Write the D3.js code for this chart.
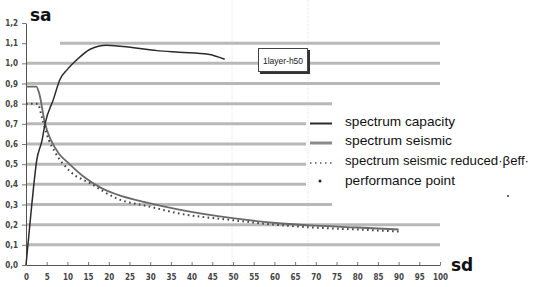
<!DOCTYPE html>
<html>
<head>
<meta charset="utf-8">
<script src="https://cdn.jsdelivr.net/npm/d3@7"></script>
<style>
  body { margin: 0; background: #fff; }
  svg { display: block; font-family: "Liberation Sans Narrow", "Liberation Sans", Arial, sans-serif; }
</style>
</head>
<body>
<svg id="chart" width="537" height="287"></svg>
<script>
// data (sd, sa)
var capacitySd = [0, 1.4, 2.6, 3.9, 4.6, 6.6, 8.2, 10, 12.2, 15.5, 19.5, 26, 31.6, 37, 44, 48];
var capacitySa = [0, 0.3, 0.52, 0.62, 0.7, 0.82, 0.92, 0.97, 1.016, 1.07, 1.09, 1.077, 1.063, 1.055, 1.045, 1.02];

var seismicSd = [0, 2.5, 3.2, 4.6, 6, 8, 10, 13.8, 17.9, 21.9, 30, 37, 49, 61, 70, 80, 90];
var seismicSa = [0.885, 0.885, 0.85, 0.7, 0.62, 0.55, 0.51, 0.44, 0.385, 0.35, 0.306, 0.275, 0.235, 0.207, 0.195, 0.186, 0.176];

var reducedSd = [0, 2.8, 4, 5.5, 7, 10.6, 15.5, 21.9, 30, 36.4, 50, 60, 70, 80, 90];
var reducedSa = [0.8, 0.8, 0.72, 0.62, 0.56, 0.465, 0.405, 0.33, 0.289, 0.258, 0.222, 0.2, 0.185, 0.176, 0.166];

var xTicks = d3.range(0, 101, 5);
var yTicks = [0, 0.1, 0.2, 0.3, 0.4, 0.5, 0.6, 0.7, 0.8, 0.9, 1.0, 1.1, 1.2];
var legendLabels = ["spectrum capacity", "spectrum seismic", "spectrum seismic reduced·βeff·", "performance point"];
var boxLabel = "1layer-h50";

var svg = d3.select("#chart");

var x = d3.scaleLinear().domain([0, 100]).range([26, 440]);
var y = d3.scaleLinear().domain([0, 1.2]).range([265, 23]);

// faint vertical lines
[232, 308].forEach(function(px) {
    svg.append("line")
        .attr("x1", px).attr("x2", px)
        .attr("y1", 0).attr("y2", 265)
        .attr("stroke", "#e6e6e6")
        .attr("stroke-dasharray", "1,1");
});

// horizontal gridlines (some are cut by the legend)
function gridStart(v) { return v > 1.05 && v < 1.15 ? 60 : 26; }
function gridEnd(v) {
    if (v > 0.35 && v < 0.75) return 306;
    if (Math.abs(v - 0.3) < 0.01 || Math.abs(v - 0.8) < 0.01) return 332;
    return 440;
}
svg.append("g").selectAll("line")
    .data(yTicks.filter(d => d > 0 && d < 1.15))
    .enter()
    .append("line")
    .attr("x1", d => gridStart(d))
    .attr("x2", d => gridEnd(d))
    .attr("y1", d => y(d))
    .attr("y2", d => y(d))
    .attr("stroke", "#b8b8b8")
    .attr("stroke-width", 3);

// axes
var leftAxis = d3.axisLeft(y)
    .tickValues(yTicks)
    .tickFormat(d => d3.format(".1f")(d).replace(".", ","))
    .tickSizeInner(4)
    .tickSizeOuter(0)
    .tickPadding(4);
var bottomAxis = d3.axisBottom(x)
    .tickValues(xTicks)
    .tickSizeInner(-3)
    .tickSizeOuter(0)
    .tickPadding(9);

var yAxis = svg.append("g")
    .attr("transform", "translate(26,0)")
    .call(leftAxis);
var xAxis = svg.append("g")
    .attr("transform", "translate(0,265)")
    .call(bottomAxis);

[xAxis, yAxis].forEach(function(g) {
    g.select(".domain").attr("stroke", "#555");
    g.selectAll(".tick line").attr("stroke", "#777");
    g.selectAll("text")
        .attr("font-size", 8)
        .attr("font-weight", "bold")
        .attr("fill", "#444")
        .attr("font-family", "'Liberation Sans Narrow', 'DejaVu Sans Condensed', sans-serif");
});

// axis titles
svg.append("text")
    .attr("x", 30).attr("y", 21)
    .attr("font-family", "'DejaVu Sans', sans-serif")
    .attr("font-weight", "bold")
    .attr("font-size", 17)
    .attr("fill", "#111")
    .text("sa");
svg.append("text")
    .attr("x", 451).attr("y", 271)
    .attr("font-family", "'DejaVu Sans', sans-serif")
    .attr("font-weight", "bold")
    .attr("font-size", 17)
    .attr("fill", "#111")
    .text("sd");

// curves
function makeLine(sd, sa) {
    return d3.line()
        .x((d, i) => x(sd[i]))
        .y((d, i) => y(sa[i]))
        .curve(d3.curveMonotoneX)(sd);
}

svg.append("path")
    .attr("d", makeLine(seismicSd, seismicSa))
    .attr("fill", "none")
    .attr("stroke", "#6a6a6a")
    .attr("stroke-width", 1.8);

svg.append("path")
    .attr("d", makeLine(reducedSd, reducedSa))
    .attr("fill", "none")
    .attr("stroke", "#444")
    .attr("stroke-width", 2)
    .attr("stroke-dasharray", "1.6,3.4");

svg.append("path")
    .attr("d", makeLine(capacitySd, capacitySa))
    .attr("fill", "none")
    .attr("stroke", "#2a2a2a")
    .attr("stroke-width", 1.5);

// label box
svg.append("rect")
    .attr("x", 260).attr("y", 50)
    .attr("width", 50).attr("height", 24)
    .attr("fill", "#333");
svg.append("rect")
    .attr("x", 258.5).attr("y", 48.5)
    .attr("width", 49).attr("height", 23)
    .attr("fill", "#fff")
    .attr("stroke", "#444");
svg.append("text")
    .attr("x", 283).attr("y", 63.5)
    .attr("text-anchor", "middle")
    .attr("font-size", 8.5)
    .attr("fill", "#222")
    .text(boxLabel);

// legend
var legendY = [123.5, 143, 163, 183];
var legendW = [110, 107, 184, 110];
var legend = svg.append("g");

legend.append("line")
    .attr("x1", 310).attr("x2", 332)
    .attr("y1", legendY[0]).attr("y2", legendY[0])
    .attr("stroke", "#2a2a2a").attr("stroke-width", 2);
legend.append("line")
    .attr("x1", 310).attr("x2", 332)
    .attr("y1", legendY[1]).attr("y2", legendY[1])
    .attr("stroke", "#8a8a8a").attr("stroke-width", 3);
legend.append("line")
    .attr("x1", 310).attr("x2", 333)
    .attr("y1", legendY[2]).attr("y2", legendY[2])
    .attr("stroke", "#555").attr("stroke-width", 1.5)
    .attr("stroke-dasharray", "1.5,3.5");
legend.append("circle")
    .attr("cx", 320).attr("cy", legendY[3] - 2)
    .attr("r", 1.5)
    .attr("fill", "#222");

legend.selectAll("text")
    .data(legendLabels)
    .enter()
    .append("text")
    .attr("x", 345)
    .attr("y", (d, i) => legendY[i] + 2)
    .attr("font-size", 13.5)
    .attr("fill", "#111")
    .attr("textLength", (d, i) => legendW[i])
    .attr("lengthAdjust", "spacingAndGlyphs")
    .text(d => d);

// stray dot right of legend
svg.append("circle")
    .attr("cx", 508).attr("cy", 196)
    .attr("r", 1)
    .attr("fill", "#333");
</script>
</body>
</html>
